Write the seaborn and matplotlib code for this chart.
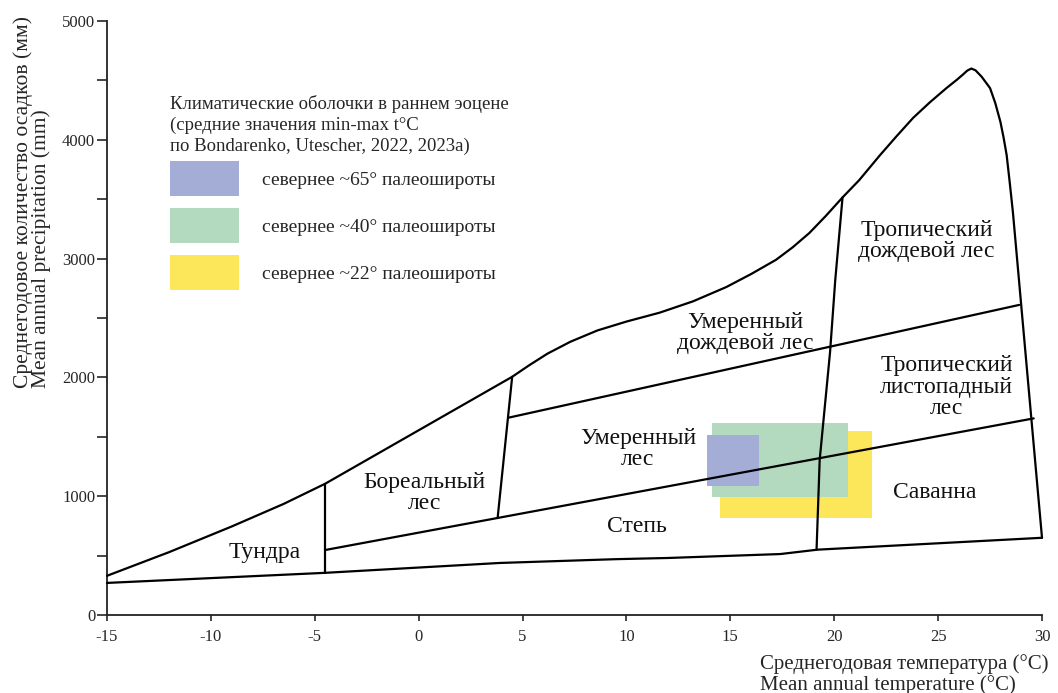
import matplotlib
matplotlib.use("Agg")
import matplotlib.pyplot as plt
import seaborn as sns
from matplotlib.patches import Patch, Rectangle

# outer envelope of the Whittaker biome diagram (temperature °C, precipitation mm)
upper_t = [-15.0, -12.0, -9.0, -6.5, -4.5, 4.5, 5.3, 6.2, 7.3, 8.6, 10.0, 11.6, 13.2,
           14.8, 16.0, 17.2, 18.0, 18.8, 19.6, 20.4, 21.2, 22.2, 23.0, 23.8, 24.6,
           25.4, 25.9, 26.2, 26.4, 26.6, 26.8, 27.1, 27.5, 27.75, 28.0, 28.15, 28.3,
           28.45, 28.6, 29.3, 30.0]
upper_p = [330, 530, 745, 935, 1105, 2005, 2100, 2200, 2300, 2395, 2470, 2545, 2640,
           2760, 2870, 2990, 3095, 3215, 3360, 3515, 3660, 3870, 4030, 4185, 4315,
           4435, 4505, 4550, 4582, 4600, 4585, 4530, 4435, 4310, 4150, 4020, 3870,
           3636, 3390, 2020, 650]
lower_t = [-15.0, -4.5, 3.9, 9.5, 12.0, 17.4, 19.2, 30.0]
lower_p = [270, 355, 438, 470, 480, 513, 550, 650]

# internal biome boundaries
tundra_t = [-4.5, -4.5]
tundra_p = [355, 1105]
boreal_t = [3.8, 4.5]
boreal_p = [816, 2005]
dry_t = [-4.5, 29.6]
dry_p = [547, 1655]
wet_t = [4.3, 28.9]
wet_p = [1660, 2610]
tropic_t = [19.15, 19.3, 19.8, 20.05, 20.4]
tropic_p = [550, 1305, 2214, 2820, 3515]

boundaries = [(upper_t, upper_p), (lower_t, lower_p), (tundra_t, tundra_p),
              (boreal_t, boreal_p), (dry_t, dry_p), (wet_t, wet_p), (tropic_t, tropic_p)]

# biome names and label positions
biome_names = ["Тундра", "Бореальный\nлес", "Умеренный\nлес", "Степь",
               "Умеренный\nдождевой лес", "Тропический\nдождевой лес",
               "Тропический\nлистопадный\nлес", "Саванна"]
biome_t = [-7.4, 0.3, 10.55, 10.5, 15.7, 24.45, 25.4, 24.85]
biome_p = [522, 1027, 1397, 749, 2374, 3148, 1919, 1027]

# early Eocene climate envelopes (min-max t°C and precipitation)
zone_labels = ["севернее ~65° палеошироты", "севернее ~40° палеошироты",
               "севернее ~22° палеошироты"]
zone_colors = ["#a4add5", "#b3d9be", "#fce65a"]
zone_tmin = [13.9, 14.1, 14.5]
zone_tmax = [16.4, 20.65, 21.8]
zone_pmin = [1086, 993, 816]
zone_pmax = [1515, 1616, 1549]

sns.set_style("ticks")
plt.rcParams['font.family'] = ['Liberation Serif', 'DejaVu Serif']
plt.rcParams['axes.unicode_minus'] = False

fig = plt.figure(figsize=(10.58, 6.93), dpi=100)
ax = fig.add_axes([107 / 1058, 78 / 693, 935 / 1058, 594 / 693])

# coloured boxes, drawn largest-first so the blue one stays on top
for i in [2, 1, 0]:
    ax.add_patch(Rectangle((zone_tmin[i], zone_pmin[i]),
                           zone_tmax[i] - zone_tmin[i], zone_pmax[i] - zone_pmin[i],
                           facecolor=zone_colors[i], edgecolor='none', zorder=1))

for bt, bp in boundaries:
    sns.lineplot(x=bt, y=bp, sort=False, estimator=None, color='black',
                 linewidth=1.6, ax=ax, clip_on=False, zorder=3)

for name, t, p in zip(biome_names, biome_t, biome_p):
    ax.text(t, p, name, ha='center', va='center', multialignment='center',
            fontsize=17, linespacing=1.05, color='#111111', zorder=4)

ax.set_xlim(-15, 30)
ax.set_ylim(0, 5000)
ax.set_xticks(range(-15, 31, 5))
ax.set_yticks(range(0, 5001, 1000))
ax.set_yticks(range(500, 5000, 1000), minor=True)
ax.tick_params(axis='y', which='both', direction='out', length=7, width=1.2,
               labelsize=12, pad=1.5)
ax.tick_params(axis='x', direction='out', length=4, width=1.2, labelsize=12, pad=6)
for s in ['left', 'bottom']:
    ax.spines[s].set_linewidth(1.3)
    ax.spines[s].set_color('#222222')
sns.despine(ax=ax)

ax.set_ylabel("Среднегодовое количество осадков (мм)\nMean annual precipitation (mm)",
              fontsize=15.5, linespacing=0.9, ha='left', multialignment='left')
ax.yaxis.set_label_coords(-0.06, 0.382)
ax.set_xlabel("Среднегодовая температура (°C)\nMean annual temperature (°C)",
              fontsize=15, linespacing=1.05, ha='left', multialignment='left')
ax.xaxis.set_label_coords(0.698, -0.066)

handles = [Patch(facecolor=c, edgecolor='none') for c in zone_colors]
leg = ax.legend(handles, zone_labels,
                title="Климатические оболочки в раннем эоцене\n"
                      "(средние значения min-max t°C\n"
                      "по Bondarenko, Utescher, 2022, 2023a)",
                loc='upper left', bbox_to_anchor=(160 / 1058, 1 - 85 / 693),
                bbox_transform=fig.transFigure, frameon=False, fontsize=14,
                title_fontsize=13.5, alignment='left', handlelength=3.55,
                handleheight=2.39, labelspacing=0.62, handletextpad=1.2,
                borderpad=0)
leg.get_title().set_linespacing(1.3)
leg._legend_box.sep = 4.3  # tighter gap between the title block and the swatches

fig.savefig("out.png", dpi=100)
